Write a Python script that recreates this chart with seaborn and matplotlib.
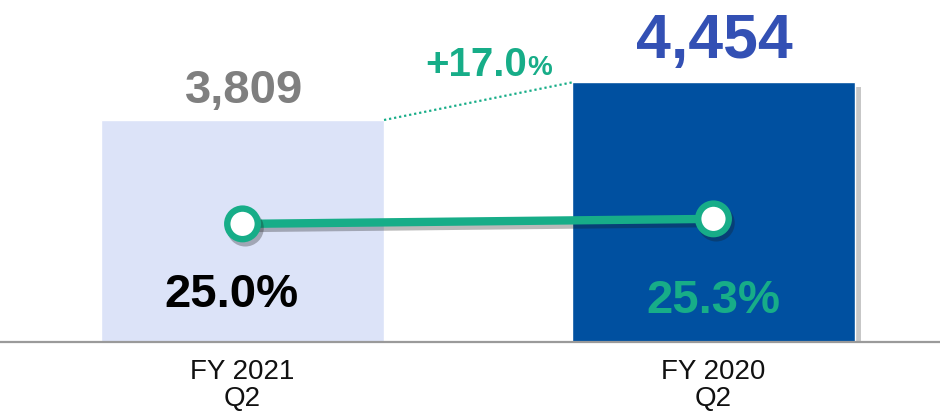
import matplotlib
matplotlib.use('Agg')
import matplotlib.pyplot as plt
import matplotlib.patheffects as pe
import pandas as pd
import seaborn as sns

# data
periods = ['FY 2021\nQ2', 'FY 2020\nQ2']
revenue = [3809, 4454]
margin_pct = [25.0, 25.3]
growth_label = '+17.0'

BAR_COLORS = ['#dce3f8', '#0050a0']
VALUE_COLORS = ['#7f7f7f', '#3350b4']
PCT_COLORS = ['#000000', '#17ad88']
GREEN = '#17ad88'

df = pd.DataFrame({'period': periods, 'revenue': revenue, 'margin': margin_pct})

sns.set_theme(style='white')
plt.rcParams['font.family'] = ['Liberation Sans', 'DejaVu Sans']

fig = plt.figure(figsize=(9.4, 4.16), dpi=100)
ax = fig.add_axes([0, 74 / 416, 1, 342 / 416])

sns.barplot(data=df, x='period', y='revenue', hue='period', palette=BAR_COLORS,
            width=0.601, legend=False, ax=ax, saturation=1)
bars = ax.patches
bars[1].set_path_effects([pe.SimplePatchShadow(offset=(4, -3), shadow_rgbFace='#000000', alpha=0.22),
                          pe.Normal()])

ax.set_xlim(-0.515, 1.481)
ax.set_ylim(0, 5868)
ax.set_yticks([])
ax.set_xlabel('')
ax.set_ylabel('')
for s in ['top', 'left', 'right']:
    ax.spines[s].set_visible(False)
ax.spines['bottom'].set_color('#9a9a9a')
ax.spines['bottom'].set_linewidth(1.6)
ax.tick_params(axis='x', length=0, pad=12, labelsize=20, labelcolor='#111111')
for t in ax.get_xticklabels():
    t.set_linespacing(1.05)

# value labels above bars
label_offsets = [5, 8]
label_sizes = [34, 45]
for i, (b, v) in enumerate(zip(bars, revenue)):
    ax.annotate(f'{v:,}', (b.get_x() + b.get_width() / 2, v), xytext=(1, label_offsets[i]),
                textcoords='offset points', ha='center', va='bottom',
                fontsize=label_sizes[i], fontweight='bold', color=VALUE_COLORS[i])

# dotted connector between bar tops
b0, b1 = bars[0], bars[1]
ax.plot([b0.get_x() + b0.get_width(), b1.get_x()], [revenue[0], revenue[1]],
        color=GREEN, linestyle=(0, (1, 1.3)), linewidth=1.6, zorder=3)
ax.text(0.605, 4760, growth_label, ha='right', va='center', fontsize=29,
        fontweight='bold', color=GREEN)
ax.text(0.6055, 4700, '%', ha='left', va='center', fontsize=20,
        fontweight='bold', color=GREEN)

# margin line on a secondary axis
ax2 = ax.twinx()
sns.lineplot(data=df, x='period', y='margin', ax=ax2, color=GREEN, linewidth=6,
             marker='o', markersize=22, markerfacecolor='white',
             markeredgecolor=GREEN, markeredgewidth=4.6, zorder=5,
             path_effects=[pe.SimpleLineShadow(offset=(2, -3), alpha=0.3), pe.Normal()])
ax2.set_ylim(17.93, 38.4)
ax2.set_xlim(-0.515, 1.481)
ax2.set_yticks([])
ax2.set_ylabel('')
for s in ['top', 'left', 'right', 'bottom']:
    ax2.spines[s].set_visible(False)

pct_offsets = [(-8, -51), (0, -59)]
for i, m in enumerate(margin_pct):
    ax2.annotate(f'{m:.1f}%', (i, m), xytext=pct_offsets[i], textcoords='offset points',
                 ha='center', va='center', fontsize=34, fontweight='bold',
                 color=PCT_COLORS[i])

fig.savefig('out.png', dpi=100)
